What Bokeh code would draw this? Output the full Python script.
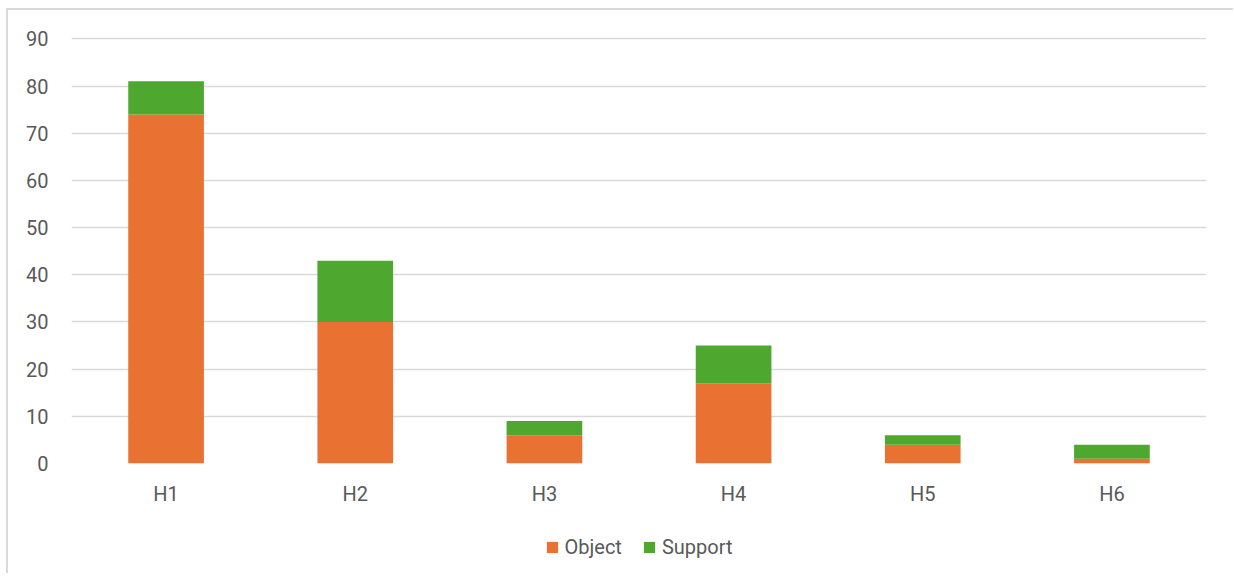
from bokeh.plotting import figure
from bokeh.models import ColumnDataSource, Legend, Range1d, FixedTicker
from bokeh.layouts import column
from bokeh.embed import file_html
from bokeh.resources import INLINE

categories = ["H1", "H2", "H3", "H4", "H5", "H6"]
object_vals = [74, 30, 6, 17, 4, 1]
support_vals = [7, 13, 3, 8, 2, 3]
y_ticks = [0, 10, 20, 30, 40, 50, 60, 70, 80, 90]
series_names = ["Object", "Support"]
series_colors = ["#E97132", "#4EA72E"]

source = ColumnDataSource(dict(cat=categories, Object=object_vals, Support=support_vals))

FONT = "Roboto"
TXT = "#595959"
FS = "20px"

p = figure(x_range=categories, y_range=Range1d(0, 90.3), width=1225, height=500,
           output_backend="svg", toolbar_location=None,
           min_border_left=63, min_border_top=27, min_border_right=27, min_border_bottom=47)

rs = p.vbar_stack(series_names, x="cat", width=0.4, source=source,
                  color=series_colors, line_color=None)

p.outline_line_color = None
p.xgrid.grid_line_color = None
p.ygrid.grid_line_color = "#d9d9d9"
p.ygrid.grid_line_width = 1.5
p.yaxis.ticker = FixedTicker(ticks=y_ticks)

for ax in (p.xaxis[0], p.yaxis[0]):
    ax.axis_line_color = None
    ax.major_tick_line_color = None
    ax.minor_tick_line_color = None
    ax.major_label_text_font = FONT
    ax.major_label_text_font_size = FS
    ax.major_label_text_color = TXT
p.yaxis.major_label_standoff = 17
p.xaxis.major_label_standoff = 12

# legend strip below the chart
lg = figure(width=1225, height=63, x_range=Range1d(0, 1), y_range=Range1d(0, 1),
            output_backend="svg", toolbar_location=None,
            min_border_left=0, min_border_right=24, min_border_top=11, min_border_bottom=0)
lg.axis.visible = False
lg.grid.visible = False
lg.outline_line_color = None
offscreen = ColumnDataSource(dict(x=[5], y=[5]))
dummy = [lg.rect(x="x", y="y", width=0.1, height=0.1, source=offscreen,
                 fill_color=c, line_color=None) for c in series_colors]

legend = Legend(items=[(n, [r]) for n, r in zip(series_names, dummy)],
                orientation="horizontal", location="center",
                label_text_font=FONT, label_text_font_size=FS, label_text_color=TXT,
                glyph_width=14, glyph_height=14, spacing=20, label_standoff=6,
                border_line_color=None, background_fill_alpha=0, padding=0, margin=0)
lg.add_layout(legend, "center")

layout = column(p, lg, spacing=0, margin=(8, 0, 0, 6),
                styles={"border-left": "2px solid #d9d9d9", "border-top": "2px solid #d9d9d9"})

open("out.html", "w").write(file_html(layout, INLINE))
